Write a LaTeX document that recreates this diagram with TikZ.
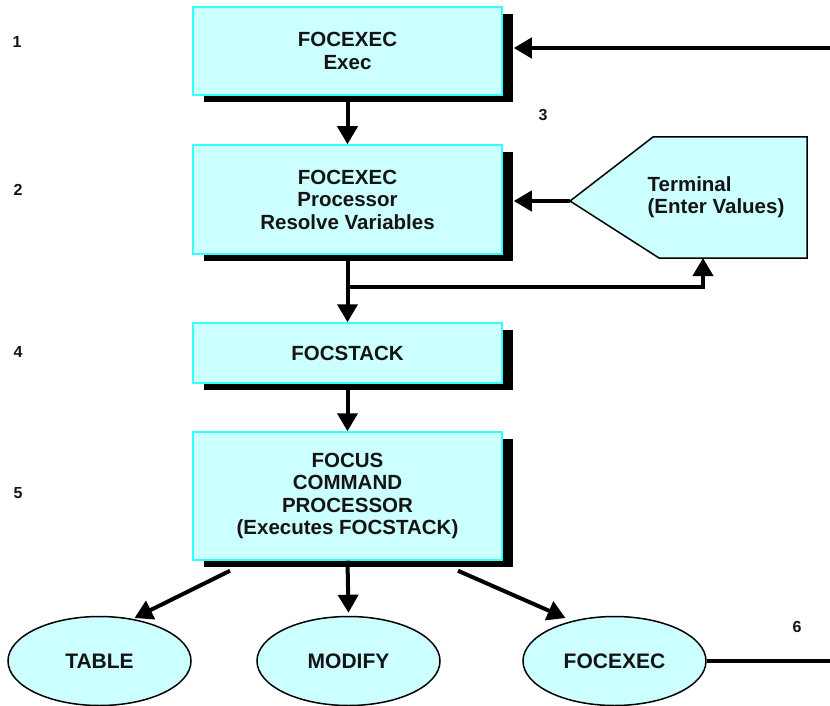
\documentclass[tikz,border=0pt]{standalone}
\usepackage{fontspec}
\setmainfont{Liberation Sans}
\usetikzlibrary{arrows.meta,shadows,calc,shapes.geometric}
\definecolor{boxfill}{HTML}{CCFFFF}
\definecolor{boxline}{HTML}{33FFFF}
\begin{document}
\begin{tikzpicture}[x=1pt,y=-1pt,
  every node/.style={font=\fontsize{20.5}{22.5}\selectfont\bfseries, text=black!92},
  procbox/.style={draw=boxline, line width=1.5pt, fill=boxfill, minimum width=309pt, align=center, inner sep=0pt,
    drop shadow={shadow xshift=11pt, shadow yshift=-7pt, fill=black, opacity=1}},
  oval/.style={ellipse, draw=black, line width=1.5pt, fill=boxfill, minimum width=183pt, minimum height=89pt, inner sep=0pt,
    font=\fontsize{21}{23}\selectfont\bfseries},
  arr/.style={line width=4pt, -{Triangle[length=18pt,width=20pt]}},
  conn/.style={line width=4pt},
  num/.style={font=\fontsize{16}{18}\selectfont\bfseries}]
\useasboundingbox (0,0) rectangle (830,706);

% boxes
\node[procbox, minimum height=88pt] (b1) at (347.5,51) {FOCEXEC\\Exec};
\node[procbox, minimum height=109pt] (b2) at (347.5,199.5) {FOCEXEC\\Processor\\Resolve Variables};
\node[procbox, minimum height=60pt] (b3) at (347.5,353) {FOCSTACK};
\node[procbox, minimum height=128pt] (b5) at (347.5,496) {FOCUS\\COMMAND\\PROCESSOR\\(Executes FOCSTACK)};

% terminal
\draw[fill=boxfill, line width=1.5pt] (570,201) -- (653,137) -- (807,137) -- (807,258) -- (659,258) -- cycle;
\coordinate (ttip) at (570,201);
\coordinate (tbot) at (703,258);
\node[align=left] (term) at (716,197) {Terminal\\(Enter Values)};

% ellipses
\node[oval] (tab) at (99.5,661) {TABLE};
\node[oval] (mod) at (348.5,661) {MODIFY};
\node[oval] (fex) at (614.5,661) {FOCEXEC};

% numbers
\node[num] (n1) at (17,42) {1};
\node[num] (n2) at (18,190) {2};
\node[num] (n3) at (543,115) {3};
\node[num] (n4) at (18,352) {4};
\node[num] (n5) at (18,493) {5};
\node[num] (n6) at (797,627) {6};

% connectors
\coordinate (topR) at (830,48);
\coordinate (botR) at (830,661);
\coordinate (y287) at (0,287);
\draw[arr] (topR) -- ($(b1.east)+(11,-3)$);
\draw[arr] (b1.south) -- (b2.north);
\draw[arr] (b2.south) -- (b3.north);
\coordinate (br) at (b2.south |- y287);
\draw[arr] (br) -| (tbot);
\draw[arr] (ttip) -- ($(b2.east)+(11,1.5)$);
\draw[arr] (b3.south) -- (b5.north);
\draw[arr] ($(b5.south)+(-117.5,10)$) -- ($(tab.center)+(35,-43)$);
\draw[arr] (b5.south) -- ($(mod.north)+(0,-3)$);
\draw[arr] ($(b5.south)+(110.5,10)$) -- ($(fex.center)+(-49,-43)$);
\draw[conn] (fex.east) -- (botR);
\end{tikzpicture}
\end{document}
